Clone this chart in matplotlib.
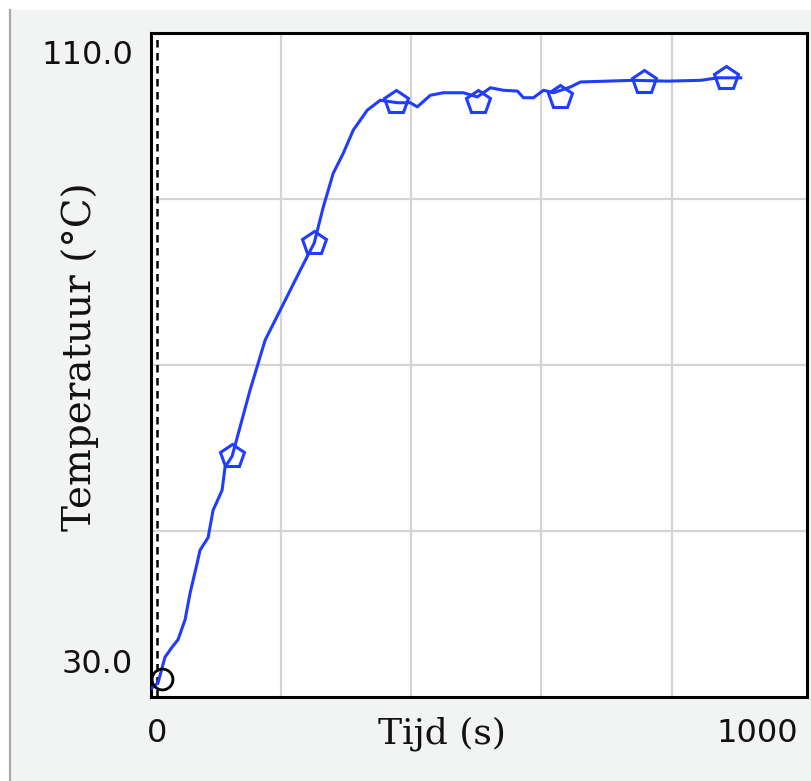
import numpy as np
import matplotlib.pyplot as plt
from matplotlib.patches import Rectangle
from matplotlib.lines import Line2D

# Meetdata: tijd (s) en temperatuur (°C)
tijd = [1.5, 10.8, 21.5, 32.3, 41.5, 52.3, 60.0, 70.8, 75.4, 87.7, 95.4, 109.2,
        113.8, 124.6, 152.3, 175.4, 206.2, 229.2, 250.8, 264.6, 280.0, 295.4,
        310.8, 332.3, 352.3, 378.5, 398.5, 409.2, 429.2, 449.2, 480.0, 501.5,
        521.5, 541.5, 563.1, 572.3, 587.7, 603.1, 618.5, 644.6, 660.0, 741.5,
        793.8, 844.6, 870.8, 906.2]
temperatuur = [31.1, 31.7, 34.8, 36.0, 36.9, 39.3, 42.5, 46.1, 47.7, 49.2, 52.5, 54.9,
               57.7, 59.0, 67.0, 73.0, 77.8, 81.4, 84.7, 89.0, 93.1, 95.5,
               98.3, 100.7, 101.9, 101.6, 101.6, 101.1, 102.5, 102.8, 102.8, 102.3,
               103.4, 103.1, 103.0, 102.2, 102.2, 103.1, 102.8, 103.5, 104.1, 104.3,
               104.2, 104.3, 104.6, 104.6]

# markeringen langs de curve
marker_tijd = [125, 251, 377, 503, 629, 757, 883]
marker_temp = [59.0, 84.7, 101.7, 101.7, 102.3, 104.1, 104.6]

start_tijd = [17]
start_temp = [32.2]

lijn_kleur = '#1f3cff'

fig = plt.figure(figsize=(8.11, 7.81), dpi=100)
fig.patch.set_facecolor('#f2f3f3')

# witte randen boven en links, met grijze lijn
fig.patches.append(Rectangle((0, 1 - 10 / 781), 1, 10 / 781, transform=fig.transFigure,
                             facecolor='white', edgecolor='none', zorder=0))
fig.patches.append(Rectangle((0, 0), 9 / 811, 1, transform=fig.transFigure,
                             facecolor='white', edgecolor='none', zorder=0))
fig.lines.append(Line2D([10 / 811, 10 / 811], [0, 1 - 10 / 781], transform=fig.transFigure,
                        color='#a8a8a8', lw=1.6))

ax = fig.add_axes([151 / 811, 84 / 781, 656 / 811, 664 / 781])
ax.set_facecolor('white')
ax.set_xlim(0, 1008)
ax.set_ylim(30, 110)

# raster
for x in [200, 400, 600, 800]:
    ax.axvline(x, color='#d4d4d4', lw=1.6, zorder=1)
for y in [50, 70, 90]:
    ax.axhline(y, color='#d4d4d4', lw=1.6, zorder=1)

ax.axvline(9, color='black', lw=1.8, ls=(0, (3, 2.2)), zorder=2)

ax.plot(tijd, temperatuur, color=lijn_kleur, lw=2.2, zorder=3)
ax.plot(marker_tijd, marker_temp, ls='none', marker='p', markersize=18,
        markerfacecolor='none', markeredgecolor=lijn_kleur, markeredgewidth=2.2, zorder=4)
ax.plot(start_tijd, start_temp, ls='none', marker='o', markersize=15,
        markerfacecolor='none', markeredgecolor='black', markeredgewidth=2, zorder=4)

for s in ax.spines.values():
    s.set_linewidth(2.2)
    s.set_color('black')

ax.set_xticks([])
ax.set_yticks([])

# as-labels
tick_font = dict(family='DejaVu Sans', size=23, color='#111111')
ax.text(-0.027, 107.3, '110.0', ha='right', va='center',
        transform=ax.get_yaxis_transform(), **tick_font)
ax.text(-0.027, 33.9, '30.0', ha='right', va='center',
        transform=ax.get_yaxis_transform(), **tick_font)
ax.text(9, -0.055, '0', ha='center', va='center', transform=ax.get_xaxis_transform(),
        **tick_font)
ax.text(995, -0.055, '1000', ha='right', va='center', transform=ax.get_xaxis_transform(),
        **tick_font)

ax.text(0.443, -0.055, 'Tijd (s)', ha='center', va='center', transform=ax.transAxes,
        family='DejaVu Serif', size=26, color='#111111')
fig.text(80 / 811, 1 - 357 / 781, 'Temperatuur (°C)', rotation=90, ha='center', va='center',
         family='DejaVu Serif', size=28, color='#111111')

fig.savefig('out.png', dpi=100, facecolor=fig.get_facecolor())
